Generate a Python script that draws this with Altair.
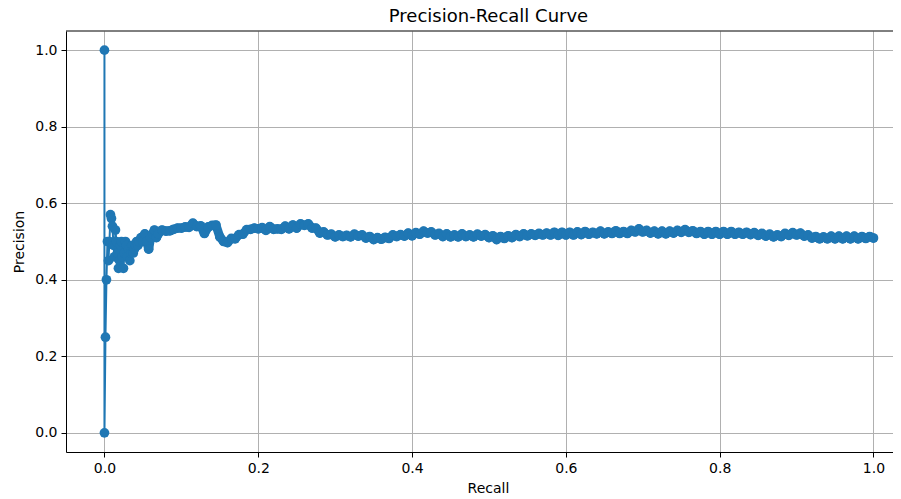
import altair as alt
import pandas as pd

recall = [
    0.0, 0.0, 0.0013, 0.0026, 0.0039, 0.0052, 0.0065, 0.0078, 0.0091, 0.0104,
    0.0117, 0.013, 0.0143, 0.0156, 0.0169, 0.0182, 0.0195, 0.0208, 0.0221, 0.0234,
    0.0247, 0.026, 0.0273, 0.0286, 0.03, 0.0315, 0.033, 0.0345, 0.036, 0.0375,
    0.039, 0.0405, 0.042, 0.0435, 0.045, 0.0475, 0.05, 0.0525, 0.055, 0.0575,
    0.06, 0.0625, 0.065, 0.0675, 0.07,
    0.075, 0.08, 0.085, 0.09, 0.095, 0.10, 0.105, 0.11, 0.115, 0.12,
    0.125, 0.13, 0.135, 0.14, 0.145, 0.15, 0.155, 0.16, 0.165, 0.17,
    0.175, 0.18, 0.185, 0.19, 0.195, 0.20, 0.205, 0.21, 0.215, 0.22,
    0.225, 0.23, 0.235, 0.24, 0.245, 0.25, 0.255, 0.26, 0.265, 0.27,
    0.275, 0.28, 0.285, 0.29, 0.295, 0.30, 0.305, 0.31, 0.315, 0.32,
    0.325, 0.33, 0.335, 0.34, 0.345, 0.35, 0.355, 0.36, 0.365, 0.37,
    0.375, 0.38, 0.385, 0.39, 0.395, 0.40, 0.405, 0.41, 0.415, 0.42,
    0.425, 0.43, 0.435, 0.44, 0.445, 0.45, 0.455, 0.46, 0.465, 0.47,
    0.475, 0.48, 0.485, 0.49, 0.495, 0.50, 0.505, 0.51, 0.515, 0.52,
    0.525, 0.53, 0.535, 0.54, 0.545, 0.55, 0.555, 0.56, 0.565, 0.57,
    0.575, 0.58, 0.585, 0.59, 0.595, 0.60, 0.605, 0.61, 0.615, 0.62,
    0.625, 0.63, 0.635, 0.64, 0.645, 0.65, 0.655, 0.66, 0.665, 0.67,
    0.675, 0.68, 0.685, 0.69, 0.695, 0.70, 0.705, 0.71, 0.715, 0.72,
    0.725, 0.73, 0.735, 0.74, 0.745, 0.75, 0.755, 0.76, 0.765, 0.77,
    0.775, 0.78, 0.785, 0.79, 0.795, 0.80, 0.805, 0.81, 0.815, 0.82,
    0.825, 0.83, 0.835, 0.84, 0.845, 0.85, 0.855, 0.86, 0.865, 0.87,
    0.875, 0.88, 0.885, 0.89, 0.895, 0.90, 0.905, 0.91, 0.915, 0.92,
    0.925, 0.93, 0.935, 0.94, 0.945, 0.95, 0.955, 0.96, 0.965, 0.97,
    0.975, 0.98, 0.985, 0.99, 0.995, 1.0,
]

precision = [
    1.0, 0.0, 0.25, 0.40, 0.50, 0.45, 0.50, 0.57, 0.56, 0.54,
    0.49, 0.46, 0.53, 0.50, 0.47, 0.43, 0.45, 0.49, 0.50, 0.46,
    0.43, 0.47, 0.50, 0.49, 0.46, 0.48, 0.45, 0.47, 0.49, 0.47,
    0.48, 0.49, 0.50, 0.49, 0.50, 0.51, 0.50, 0.52, 0.50, 0.48,
    0.51, 0.52, 0.53, 0.51, 0.52,
    0.530, 0.527, 0.528, 0.532, 0.535, 0.535, 0.538, 0.537, 0.548, 0.539,
    0.541, 0.521, 0.538, 0.542, 0.543, 0.512, 0.500, 0.497, 0.508, 0.507,
    0.518, 0.519, 0.531, 0.532, 0.535, 0.533, 0.536, 0.529, 0.539, 0.532,
    0.533, 0.532, 0.540, 0.533, 0.543, 0.535, 0.546, 0.542, 0.546, 0.535,
    0.535, 0.522, 0.525, 0.517, 0.519, 0.512, 0.517, 0.513, 0.516, 0.512,
    0.519, 0.514, 0.517, 0.509, 0.513, 0.505, 0.510, 0.506, 0.511, 0.508,
    0.517, 0.513, 0.518, 0.514, 0.522, 0.515, 0.523, 0.519, 0.527, 0.522,
    0.525, 0.517, 0.521, 0.513, 0.520, 0.512, 0.517, 0.512, 0.520, 0.513,
    0.517, 0.512, 0.519, 0.514, 0.518, 0.510, 0.515, 0.505, 0.513, 0.508,
    0.515, 0.510, 0.518, 0.513, 0.520, 0.515, 0.520, 0.516, 0.521, 0.517,
    0.522, 0.517, 0.524, 0.516, 0.524, 0.517, 0.524, 0.517, 0.525, 0.518,
    0.526, 0.519, 0.524, 0.520, 0.527, 0.520, 0.525, 0.521, 0.528, 0.521,
    0.526, 0.521, 0.529, 0.525, 0.533, 0.525, 0.529, 0.522, 0.527, 0.520,
    0.527, 0.520, 0.527, 0.522, 0.529, 0.524, 0.531, 0.524, 0.528, 0.521,
    0.526, 0.519, 0.526, 0.519, 0.526, 0.519, 0.526, 0.519, 0.526, 0.519,
    0.524, 0.519, 0.524, 0.518, 0.523, 0.516, 0.521, 0.514, 0.519, 0.512,
    0.517, 0.513, 0.521, 0.516, 0.523, 0.517, 0.522, 0.514, 0.517, 0.509,
    0.513, 0.507, 0.512, 0.507, 0.514, 0.507, 0.514, 0.507, 0.514, 0.507,
    0.514, 0.507, 0.513, 0.508, 0.513, 0.509,
]

x_ticks = [0.0, 0.2, 0.4, 0.6, 0.8, 1.0]
y_ticks = [0.0, 0.2, 0.4, 0.6, 0.8, 1.0]

df = pd.DataFrame({"recall": recall, "precision": precision})
df["idx"] = range(len(df))

BLUE = "#1f77b4"
FONT = "DejaVu Sans"
W, H = 827, 421

x_enc = alt.X(
    "recall:Q",
    scale=alt.Scale(domain=[-0.05, 1.0254], nice=False, zero=False),
    axis=alt.Axis(values=x_ticks, format=".1f", title="Recall", titleX=422),
)
y_enc = alt.Y(
    "precision:Q",
    scale=alt.Scale(domain=[-0.05, 1.05], nice=False, zero=False),
    axis=alt.Axis(values=y_ticks, format=".1f", title="Precision"),
)

base = alt.Chart(df)
line = base.mark_line(color=BLUE, strokeWidth=2).encode(x=x_enc, y=y_enc, order="idx:Q")
ribbon = (
    base.transform_filter(alt.datum.recall >= 0.04)
    .mark_line(color=BLUE, strokeWidth=9, strokeCap="round", strokeJoin="round")
    .encode(x="recall:Q", y="precision:Q", order="idx:Q")
)
pts = base.mark_circle(color=BLUE, size=95, opacity=1).encode(x="recall:Q", y="precision:Q")
top = alt.Chart(df.head(1)).mark_rule(color="black", strokeWidth=1).encode(
    x=alt.value(0), x2=alt.value(W), y=alt.value(0)
)

chart = (
    alt.layer(line, ribbon, pts, top)
    .properties(
        width=W,
        height=H,
        autosize=alt.AutoSizeParams(type="none"),
        padding={"left": 58, "top": 23, "right": 0, "bottom": 45},
        title=alt.TitleParams(
            "Precision-Recall Curve", font=FONT, fontSize=18, fontWeight="normal",
            color="black", offset=5, anchor="middle", dx=9,
        ),
    )
    .configure_view(stroke=None)
    .configure_axis(
        labelFont=FONT, labelFontSize=14, labelColor="black",
        titleFont=FONT, titleFontSize=14, titleFontWeight="normal", titleColor="black",
        domainColor="black", domainWidth=1, tickColor="black", tickSize=5,
        labelPadding=4, gridColor="#b0b0b0", gridWidth=1,
    )
    .configure_axisX(titlePadding=6)
    .configure_axisY(titlePadding=8)
)

chart.save("out.html", embed_options={"renderer": "svg", "actions": False})
